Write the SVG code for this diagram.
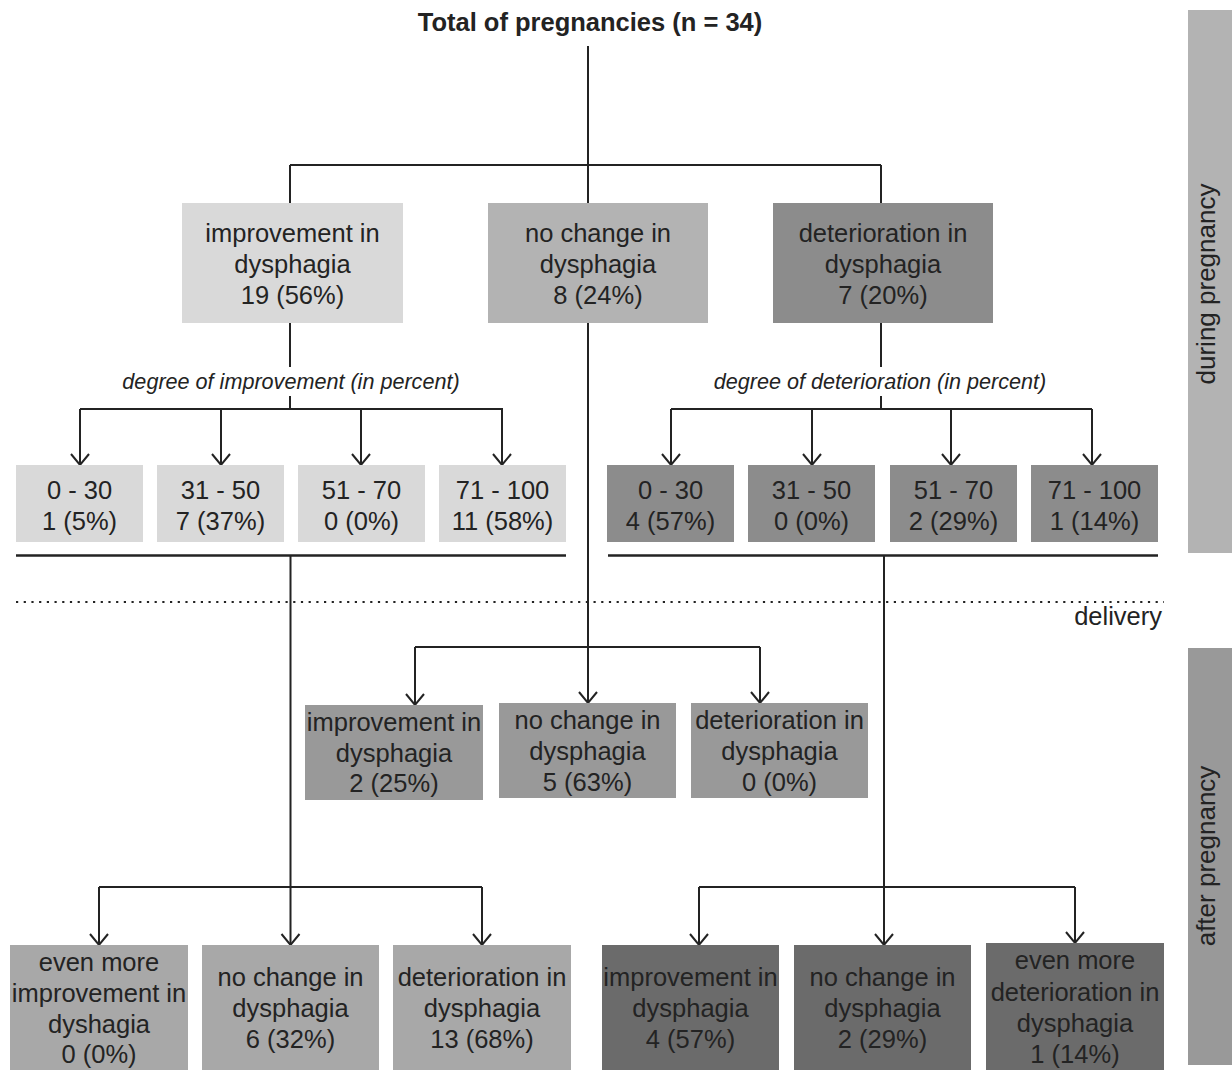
<svg xmlns="http://www.w3.org/2000/svg" width="1232" height="1070" viewBox="0 0 1232 1070">
<style>
text{font-family:"Liberation Sans",Arial,sans-serif;fill:#232323}
.t{font-size:25.5px;text-anchor:middle}
.lbl{font-size:21.6px;font-style:italic;text-anchor:middle}
.ttl{font-size:25.5px;font-weight:bold;text-anchor:middle}
.side{font-size:26px;text-anchor:middle}
.c{fill:none;stroke:#232323;stroke-width:2}
.a{fill:none;stroke:#232323;stroke-width:2;marker-end:url(#ah)}
.sep{fill:none;stroke:#232323;stroke-width:2.6}
.g1{fill:#d9d9d9}
.g2{fill:#b3b3b3}
.g3{fill:#8c8c8c}
.g4{fill:#999999}
.g5{fill:#a8a8a8}
.g6{fill:#6b6b6b}
</style>
<defs>
<marker id="ah" markerUnits="userSpaceOnUse" markerWidth="24" markerHeight="24" viewBox="-12 -12 24 24" refX="0" refY="0" orient="auto">
<path d="M-11,-9 L0,0 L-11,9" fill="none" stroke="#232323" stroke-width="2"/>
</marker>
</defs>
<rect id="during-bar" x="1188" y="10" width="44" height="543" fill="#b3b3b3"/>
<text class="side" transform="translate(1215,284) rotate(-90)">during pregnancy</text>
<rect id="after-bar" x="1188" y="648" width="44" height="417" fill="#999999"/>
<text class="side" transform="translate(1215,856) rotate(-90)">after pregnancy</text>
<text class="ttl" x="590" y="31">Total of pregnancies (n = 34)</text>
<text id="delivery" x="1162" y="625" style="font-size:25.5px;text-anchor:end">delivery</text>
<line x1="16" y1="602" x2="1164" y2="602" stroke="#232323" stroke-width="2.2" stroke-dasharray="2.2 5.5"/>
<g id="connectors">
<path class="c" d="M588,46 V165 M290,165 H881 M290,165 V203 M881,165 V203 M588,165 V203"/>
<path class="c" d="M290,323 V367 M290,396 V409 M80,409 H503"/>
<path class="a" d="M80,409 V465"/><path class="a" d="M221,409 V465"/><path class="a" d="M361,409 V465"/><path class="a" d="M502,409 V465"/>
<path class="c" d="M881,323 V367 M881,396 V409 M671,409 H1092"/>
<path class="a" d="M671,409 V465"/><path class="a" d="M812,409 V465"/><path class="a" d="M951,409 V465"/><path class="a" d="M1092,409 V465"/>
<path class="sep" d="M16,555.5 H566 M608,555.5 H1158"/>
<path class="c" d="M415,647 H760"/>
<path class="a" d="M588,323 V703"/><path class="a" d="M415,647 V705"/><path class="a" d="M760,647 V703"/>
<path class="c" d="M99,887 H482"/>
<path class="a" d="M290.5,555 V945"/><path class="a" d="M99,887 V945"/><path class="a" d="M482,887 V945"/>
<path class="c" d="M699,887 H1075"/>
<path class="a" d="M884,555 V945"/><path class="a" d="M699,887 V945"/><path class="a" d="M1075,887 V943"/>
</g>
<text class="lbl" x="291" y="389">degree of improvement (in percent)</text>
<text class="lbl" x="880" y="389">degree of deterioration (in percent)</text>
<g id="top-improve"><rect class="g1" x="182" y="203" width="221" height="120"/><text class="t" x="292.5" y="242">improvement in</text><text class="t" x="292.5" y="273">dysphagia</text><text class="t" x="292.5" y="304">19 (56%)</text></g>
<g id="top-nochange"><rect class="g2" x="488" y="203" width="220" height="120"/><text class="t" x="598" y="242">no change in</text><text class="t" x="598" y="273">dysphagia</text><text class="t" x="598" y="304">8 (24%)</text></g>
<g id="top-deter"><rect class="g3" x="773" y="203" width="220" height="120"/><text class="t" x="883" y="242">deterioration in</text><text class="t" x="883" y="273">dysphagia</text><text class="t" x="883" y="304">7 (20%)</text></g>
<g id="imp-0-30"><rect class="g1" x="16" y="465" width="127" height="77"/><text class="t" x="79.5" y="499">0 - 30</text><text class="t" x="79.5" y="530">1 (5%)</text></g>
<g id="imp-31-50"><rect class="g1" x="157" y="465" width="127" height="77"/><text class="t" x="220.5" y="499">31 - 50</text><text class="t" x="220.5" y="530">7 (37%)</text></g>
<g id="imp-51-70"><rect class="g1" x="298" y="465" width="127" height="77"/><text class="t" x="361.5" y="499">51 - 70</text><text class="t" x="361.5" y="530">0 (0%)</text></g>
<g id="imp-71-100"><rect class="g1" x="439" y="465" width="127" height="77"/><text class="t" x="502.5" y="499">71 - 100</text><text class="t" x="502.5" y="530">11 (58%)</text></g>
<g id="det-0-30"><rect class="g3" x="607" y="465" width="127" height="77"/><text class="t" x="670.5" y="499">0 - 30</text><text class="t" x="670.5" y="530">4 (57%)</text></g>
<g id="det-31-50"><rect class="g3" x="748" y="465" width="127" height="77"/><text class="t" x="811.5" y="499">31 - 50</text><text class="t" x="811.5" y="530">0 (0%)</text></g>
<g id="det-51-70"><rect class="g3" x="890" y="465" width="127" height="77"/><text class="t" x="953.5" y="499">51 - 70</text><text class="t" x="953.5" y="530">2 (29%)</text></g>
<g id="det-71-100"><rect class="g3" x="1031" y="465" width="127" height="77"/><text class="t" x="1094.5" y="499">71 - 100</text><text class="t" x="1094.5" y="530">1 (14%)</text></g>
<g id="mid-improve"><rect class="g4" x="305" y="705" width="178" height="95"/><text class="t" x="394" y="731">improvement in</text><text class="t" x="394" y="762">dysphagia</text><text class="t" x="394" y="792">2 (25%)</text></g>
<g id="mid-nochange"><rect class="g4" x="499" y="703" width="177" height="95"/><text class="t" x="587.5" y="729">no change in</text><text class="t" x="587.5" y="760">dysphagia</text><text class="t" x="587.5" y="791">5 (63%)</text></g>
<g id="mid-deter"><rect class="g4" x="691" y="703" width="177" height="95"/><text class="t" x="779.5" y="729">deterioration in</text><text class="t" x="779.5" y="760">dysphagia</text><text class="t" x="779.5" y="791">0 (0%)</text></g>
<g id="bl-more"><rect class="g5" x="10" y="945" width="178" height="125"/><text class="t" x="99" y="971">even more</text><text class="t" x="99" y="1002">improvement in</text><text class="t" x="99" y="1033">dyshagia</text><text class="t" x="99" y="1063">0 (0%)</text></g>
<g id="bl-nochange"><rect class="g5" x="202" y="945" width="177" height="125"/><text class="t" x="290.5" y="986">no change in</text><text class="t" x="290.5" y="1017">dysphagia</text><text class="t" x="290.5" y="1048">6 (32%)</text></g>
<g id="bl-deter"><rect class="g5" x="393" y="945" width="178" height="125"/><text class="t" x="482" y="986">deterioration in</text><text class="t" x="482" y="1017">dysphagia</text><text class="t" x="482" y="1048">13 (68%)</text></g>
<g id="br-improve"><rect class="g6" x="602" y="945" width="177" height="125"/><text class="t" x="690.5" y="986">improvement in</text><text class="t" x="690.5" y="1017">dysphagia</text><text class="t" x="690.5" y="1048">4 (57%)</text></g>
<g id="br-nochange"><rect class="g6" x="794" y="945" width="177" height="125"/><text class="t" x="882.5" y="986">no change in</text><text class="t" x="882.5" y="1017">dysphagia</text><text class="t" x="882.5" y="1048">2 (29%)</text></g>
<g id="br-more"><rect class="g6" x="986" y="943" width="178" height="127"/><text class="t" x="1075" y="969">even more</text><text class="t" x="1075" y="1001">deterioration in</text><text class="t" x="1075" y="1032">dysphagia</text><text class="t" x="1075" y="1063">1 (14%)</text></g>
</svg>
